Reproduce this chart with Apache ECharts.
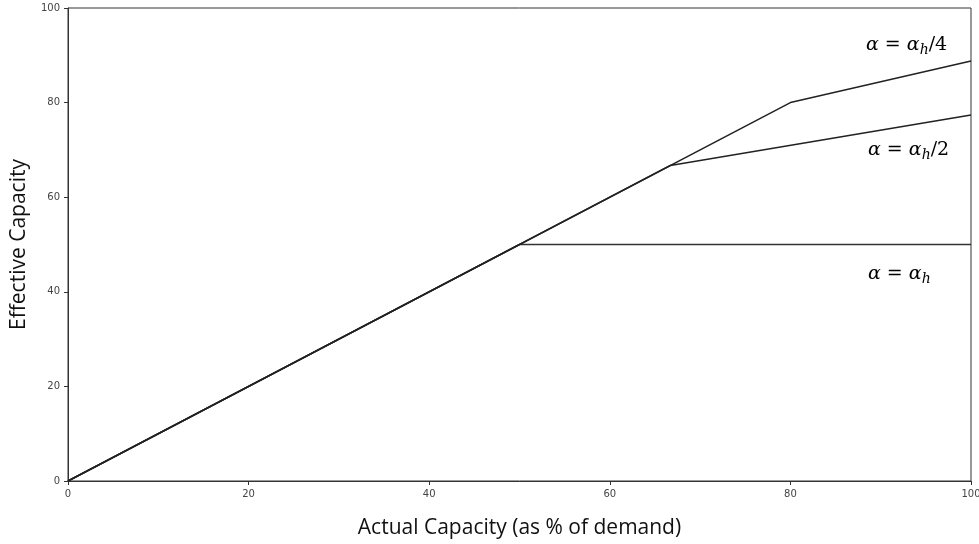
<!DOCTYPE html>
<html>
<head>
<meta charset="utf-8">
<script src="https://cdn.jsdelivr.net/npm/echarts@6/dist/echarts.min.js"></script>
<style>
  html, body { margin: 0; padding: 0; background: #fff; }
  #main { width: 979px; height: 544px; }
</style>
</head>
<body>
<div id="main"></div>
<script>
// values
var xTicks = [0, 20, 40, 60, 80, 100];
var lineFull = [[0, 0], [50, 50], [100, 50]];          // alpha = alpha_h
var lineHalf = [[0, 0], [66.7, 66.7], [100, 77.4]];    // alpha = alpha_h/2
var lineQuarter = [[0, 0], [80, 80], [100, 88.8]];     // alpha = alpha_h/4
var seriesNames = ['α = α_h', 'α = α_h/2', 'α = α_h/4'];

var myChart = echarts.init(document.getElementById('main'));

var axisText = { color: '#444', fontSize: 10, fontFamily: 'DejaVu Sans' };
var mathRich = {
  i: { fontFamily: 'DejaVu Serif', fontStyle: 'italic', fontSize: 19, color: '#111' },
  u: { fontFamily: 'DejaVu Serif', fontSize: 19, color: '#111' },
  s: { fontFamily: 'DejaVu Serif', fontStyle: 'italic', fontSize: 14, color: '#111', padding: [10, 0, 0, 0] }
};

function mathLabel(left, top, suffix) {
  return {
    type: 'text',
    left: left,
    top: top,
    style: {
      text: '{i|α}{u| = }{i|α}{s|h}' + (suffix ? '{u|' + suffix + '}' : ''),
      rich: mathRich
    }
  };
}

var option = {
  animation: false,
  grid: {
    left: 68, right: 8, top: 8, bottom: 63,
    outerBoundsMode: 'none',
    containLabel: false,
    show: true, borderColor: '#333', borderWidth: 1
  },
  xAxis: {
    type: 'value', min: 0, max: 100, interval: 20,
    name: 'Actual Capacity (as % of demand)',
    nameLocation: 'middle', nameGap: 37,
    nameTextStyle: { fontSize: 21, color: '#111', fontFamily: 'Open Sans' },
    axisLine: { show: true, lineStyle: { color: '#333' } },
    axisTick: { show: true, length: 4, lineStyle: { color: '#333' } },
    axisLabel: axisText,
    splitLine: { show: false }
  },
  yAxis: {
    type: 'value', min: 0, max: 100, interval: 20,
    name: 'Effective Capacity',
    nameLocation: 'middle', nameGap: 38,
    nameTextStyle: { fontSize: 21, color: '#111', fontFamily: 'Open Sans' },
    axisLine: { show: true, lineStyle: { color: '#333' } },
    axisTick: { show: true, length: 4, lineStyle: { color: '#333' } },
    axisLabel: axisText,
    splitLine: { show: false }
  },
  series: [
    { name: seriesNames[0], type: 'line', data: lineFull, symbol: 'none',
      lineStyle: { color: '#333', width: 1.5 } },
    { name: seriesNames[1], type: 'line', data: lineHalf, symbol: 'none',
      lineStyle: { color: '#222', width: 1.5 } },
    { name: seriesNames[2], type: 'line', data: lineQuarter, symbol: 'none',
      lineStyle: { color: '#222', width: 1.5 } }
  ],
  graphic: [
    mathLabel(866, 36, '/4'),
    mathLabel(868, 141, '/2'),
    mathLabel(868, 265, '')
  ]
};

myChart.setOption(option);
</script>
</body>
</html>
